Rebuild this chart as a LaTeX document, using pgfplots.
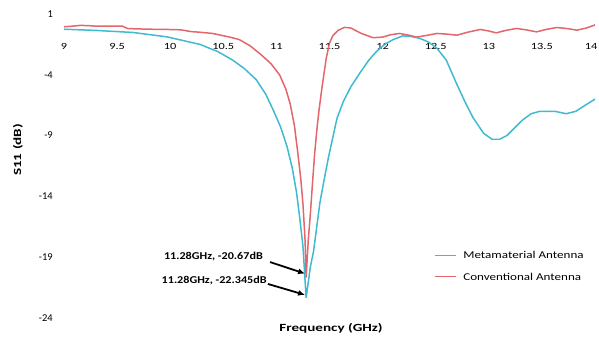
\documentclass[border=0pt]{standalone}
\usepackage{fontspec}
\setmainfont{Carlito}
\newfontfamily\widefont[FakeStretch=1.3]{Carlito}
\newfontfamily\wideleg[FakeStretch=1.25]{Carlito}
\newfontfamily\wideannot[FakeStretch=1.16]{Carlito}
\newfontfamily\widelabel[FakeStretch=1.38]{Carlito}
\usepackage{pgfplots}
\pgfplotsset{compat=1.18}
\usetikzlibrary{arrows.meta}
\definecolor{metablue}{RGB}{64,186,208}
\definecolor{convred}{RGB}{226,102,108}
\begin{document}
\begin{tikzpicture}
\useasboundingbox (0,0) rectangle (599bp,-340bp);
\begin{axis}[
  at={(64bp,-318bp)}, anchor=south west,
  scale only axis, width=531bp, height=304bp,
  xmin=9, xmax=14, ymin=-24, ymax=1,
  axis line style={draw=none},
  xtick={9,9.5,...,14}, ytick={1,-4,-9,-14,-19,-24},
  xticklabels={9,9.5,10,10.5,11,11.5,12,12.5,13,13.5,\hspace*{-8bp}14},
  yticklabels={1,-4,-9,-14,-19,-24},
  xticklabel pos=upper,
  major tick length=0pt,
  /pgf/number format/assume math mode=true,
  xticklabel style={font=\widefont\fontsize{9.5}{11}\selectfont, anchor=center, yshift=-32bp},
  yticklabel style={font=\fontsize{10.5}{12}\selectfont, anchor=east, inner sep=0pt, xshift=-11bp},
  xlabel={\textbf{Frequency (GHz)}},
  ylabel={\textbf{S11 (dB)}},
  every axis x label/.style={at={(axis description cs:0.503,0)}, anchor=center, yshift=-10bp, font=\widelabel\fontsize{11}{12}\selectfont},
  every axis y label/.style={at={(axis description cs:-0.087,0.553)}, anchor=center, rotate=90, font=\widelabel\fontsize{11}{12}\selectfont},
  legend style={at={(axis description cs:0.699,0.227)}, anchor=north west, draw=none, fill=none,
    font=\wideleg\fontsize{10.5}{12}\selectfont, row sep=9bp, column sep=5bp, inner sep=0pt},
  legend cell align=left,
  clip=false,
]
\addplot[color=metablue, line width=1.5pt, forget plot] coordinates {
(9.00,-0.25) (9.3,-0.35) (9.65,-0.52) (9.97,-0.88) (10.28,-1.5) (10.45,-2.1) (10.59,-2.8) (10.70,-3.5) (10.81,-4.4)
(10.90,-5.6) (10.97,-6.9) (11.04,-8.3) (11.10,-9.9) (11.15,-11.7) (11.19,-13.7) (11.22,-15.8) (11.25,-18.1) (11.28,-22.345)
(11.32,-19.8) (11.35,-18.5) (11.41,-14.5) (11.45,-12.6) (11.49,-10.8) (11.57,-7.6) (11.63,-6.2) (11.70,-5.0) (11.79,-3.8)
(11.87,-2.8) (11.94,-2.1) (12.02,-1.5) (12.10,-1.1) (12.19,-0.8) (12.27,-0.85) (12.35,-1.0) (12.43,-1.3) (12.51,-1.8)
(12.60,-2.8) (12.70,-4.8) (12.78,-6.3) (12.85,-7.5) (12.95,-8.8) (13.03,-9.3) (13.10,-9.3) (13.17,-9.0) (13.25,-8.3)
(13.32,-7.7) (13.40,-7.2) (13.48,-7.0) (13.55,-7.0) (13.62,-7.0) (13.73,-7.2) (13.82,-7.0) (13.89,-6.6) (14.00,-6.0)
};
\addplot[color=convred, line width=1.5pt, forget plot] coordinates {
(9.00,-0.05) (9.08,0.0) (9.15,0.06) (9.22,0.05) (9.3,0.0) (9.45,0.0) (9.55,0.0) (9.6,-0.2) (9.8,-0.25) (9.97,-0.27)
(10.1,-0.3) (10.2,-0.45) (10.28,-0.5) (10.40,-0.6) (10.48,-0.75) (10.56,-0.9) (10.65,-1.1) (10.75,-1.6) (10.85,-2.3)
(10.95,-3.1) (11.03,-4.0) (11.09,-5.2) (11.13,-6.4) (11.17,-8.2) (11.20,-10.3) (11.23,-12.6) (11.25,-14.6) (11.27,-17.6)
(11.28,-20.67) (11.30,-17.6) (11.32,-15.4) (11.34,-12.9) (11.36,-10.5) (11.38,-8.6) (11.40,-7.0) (11.43,-5.0) (11.47,-2.6)
(11.50,-1.4) (11.53,-0.8) (11.58,-0.35) (11.64,-0.1) (11.70,-0.15) (11.80,-0.6) (11.91,-0.95) (12.00,-0.9) (12.08,-0.7)
(12.16,-0.6) (12.25,-0.75) (12.32,-0.9) (12.42,-0.75) (12.51,-0.6) (12.60,-0.65) (12.70,-0.74) (12.80,-0.5) (12.92,-0.27)
(13.00,-0.4) (13.07,-0.55) (13.16,-0.35) (13.26,-0.19) (13.35,-0.3) (13.45,-0.47) (13.55,-0.25) (13.64,-0.11) (13.74,-0.2)
(13.83,-0.33) (13.92,-0.15) (14.00,0.1)
};
\addlegendimage{legend image code/.code={\node[inner sep=0pt, anchor=west] at (0bp,0bp) {\textcolor{metablue}{\rule[-0.6pt]{21bp}{1.2pt}}};}}
\addlegendentry{Metamaterial Antenna}
\addlegendimage{legend image code/.code={\node[inner sep=0pt, anchor=west] at (0bp,0bp) {\textcolor{convred}{\rule[-0.6pt]{21bp}{1.2pt}}};}}
\addlegendentry{Conventional Antenna}
\node[anchor=east, font=\wideannot\bfseries\fontsize{10.5}{12}\selectfont, inner sep=0pt] at (axis cs:10.874,-18.98) {11.28GHz, -20.67dB};
\node[anchor=east, font=\wideannot\bfseries\fontsize{10.5}{12}\selectfont, inner sep=0pt] at (axis cs:10.91,-20.95) {11.28GHz, -22.345dB};
\draw[-{Latex[length=7bp,width=6bp]}, line width=1.8pt] (axis cs:10.94,-19.4) -- (axis cs:11.27,-20.35);
\draw[-{Latex[length=7bp,width=6bp]}, line width=1.8pt] (axis cs:10.92,-21.2) -- (axis cs:11.27,-22.1);
\end{axis}
\end{tikzpicture}
\end{document}
